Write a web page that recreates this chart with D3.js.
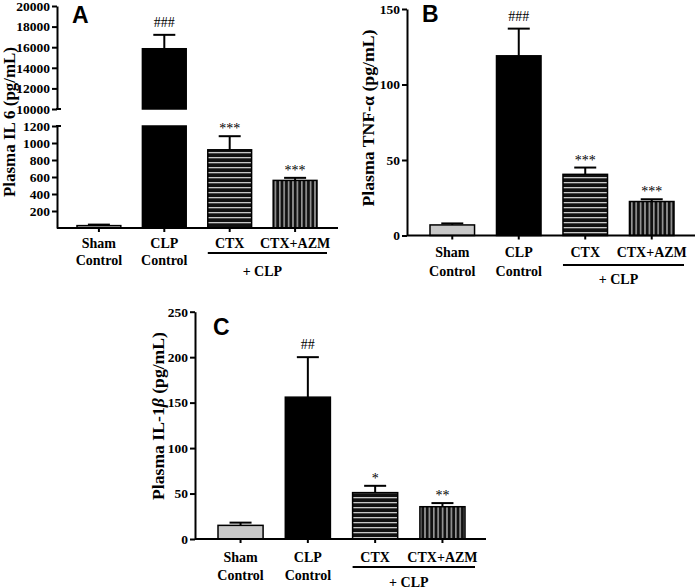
<!DOCTYPE html>
<html>
<head>
<meta charset="utf-8">
<script src="https://cdn.jsdelivr.net/npm/d3@7"></script>
<style>
  body { margin: 0; background: #fff; }
  svg text { font-family: "Liberation Serif", "Times New Roman", serif; font-weight: bold; }
  svg text.title { font-family: "Liberation Sans", Arial, sans-serif; }
</style>
</head>
<body>
<div id="chart"></div>
<script>
// groups and labels
const groups = ['Sham Control', 'CLP Control', 'CTX', 'CTX+AZM'];
const groupLines = [['Sham', 'Control'], ['CLP', 'Control'], ['CTX'], ['CTX+AZM']];

// IL-6 (pg/mL)
const il6Mean = [28, 15850, 920, 560];
const il6Err = [12, 1350, 160, 30];
const il6Marks = ['', '###', '***', '***'];
const il6LowerTicks = [200, 400, 600, 800, 1000, 1200];
const il6UpperTicks = [10000, 12000, 14000, 16000, 18000, 20000];

// TNF-alpha (pg/mL)
const tnfMean = [7, 119, 40.5, 22.5];
const tnfErr = [1, 18, 4.5, 1.5];
const tnfMarks = ['', '###', '***', '***'];
const tnfTicks = [0, 50, 100, 150];

// IL-1beta (pg/mL)
const il1bMean = [15, 156, 51, 35.5];
const il1bErr = [3, 44, 7.5, 4];
const il1bMarks = ['', '##', '*', '**'];
const il1bTicks = [0, 50, 100, 150, 200, 250];

const barFills = ['#c8c8c8', '#000', 'url(#hstripe)', 'url(#vstripe)'];

const svg = d3.select('#chart')
  .append('svg')
  .attr('width', 700)
  .attr('height', 588);

/* stripe patterns */
const defs = svg.append('defs');
const hp = defs.append('pattern')
  .attr('id', 'hstripe')
  .attr('patternUnits', 'userSpaceOnUse')
  .attr('width', 6)
  .attr('height', 5);
hp.append('rect').attr('width', 6).attr('height', 5).attr('fill', '#111');
hp.append('rect').attr('y', 2).attr('width', 6).attr('height', 1.3).attr('fill', '#c8c8c8');

const vp = defs.append('pattern')
  .attr('id', 'vstripe')
  .attr('patternUnits', 'userSpaceOnUse')
  .attr('width', 4.4)
  .attr('height', 6);
vp.append('rect').attr('width', 4.4).attr('height', 6).attr('fill', '#111');
vp.append('rect').attr('x', 2).attr('width', 1.2).attr('height', 6).attr('fill', '#c8c8c8');

function drawPanel(p) {
  const g = svg.append('g');

  const x = d3.scaleBand()
    .domain(groups)
    .range(p.barRange)
    .paddingInner(0.33)
    .paddingOuter(0);

  const segs = p.segments.map(s => ({
    domain: s.domain,
    ticks: s.ticks,
    y: d3.scaleLinear().domain(s.domain).range(s.range)
  }));
  const baseY = segs[0].y(segs[0].domain[0]);

  /* y axis pieces */
  segs.forEach(s => {
    const ax = g.append('g')
      .attr('transform', `translate(${p.axisX},0)`)
      .call(d3.axisLeft(s.y)
        .tickValues(s.ticks)
        .tickFormat(d3.format('d'))
        .tickSize(5)
        .tickSizeOuter(0)
        .tickPadding(2));
    ax.selectAll('path, line').attr('stroke', '#000').attr('stroke-width', 2);
    ax.selectAll('text').style('font-size', '13.5px').attr('fill', '#000');
  });

  // little right caps where the axis is broken
  if (segs.length > 1) {
    [segs[0].y(segs[0].domain[1]), segs[1].y(segs[1].domain[0])].forEach(yy => {
      g.append('line')
        .attr('x1', p.axisX - 1).attr('x2', p.axisX + 4)
        .attr('y1', yy).attr('y2', yy)
        .attr('stroke', '#000').attr('stroke-width', 2);
    });
  }

  /* bars */
  groups.forEach((grp, i) => {
    const v = p.mean[i];
    segs.forEach(s => {
      if (v <= s.domain[0] && s !== segs[0]) return;
      const top = s.y(Math.min(v, s.domain[1]));
      const bot = s.y(s.domain[0]);
      g.append('rect')
        .attr('x', x(grp))
        .attr('y', top)
        .attr('width', x.bandwidth())
        .attr('height', bot - top)
        .attr('fill', barFills[i])
        .attr('stroke', '#000')
        .attr('stroke-width', 1.5);
    });

    // error bar (upper only)
    const s = segs.find(s => v >= s.domain[0] && v <= s.domain[1]);
    const cx = x(grp) + x.bandwidth() / 2;
    const yTop = s.y(v + p.err[i]);
    g.append('line')
      .attr('x1', cx).attr('x2', cx)
      .attr('y1', s.y(v)).attr('y2', yTop)
      .attr('stroke', '#000').attr('stroke-width', 2);
    g.append('line')
      .attr('x1', cx - 11).attr('x2', cx + 11)
      .attr('y1', yTop).attr('y2', yTop)
      .attr('stroke', '#000').attr('stroke-width', 2);

    if (p.marks[i]) {
      const isHash = p.marks[i].indexOf('#') > -1;
      g.append('text')
        .attr('x', cx)
        .attr('y', yTop - (isHash ? 8 : 3))
        .attr('text-anchor', 'middle')
        .style('font-weight', 'normal')
        .style('font-size', '14px')
        .text(p.marks[i]);
    }
  });

  /* x axis */
  g.append('line')
    .attr('x1', p.axisX).attr('x2', p.axisEnd)
    .attr('y1', baseY).attr('y2', baseY)
    .attr('stroke', '#000').attr('stroke-width', 2);

  groups.forEach((grp, i) => {
    const cx = x(grp) + x.bandwidth() / 2;
    g.append('line')
      .attr('x1', cx).attr('x2', cx)
      .attr('y1', baseY).attr('y2', baseY + 4)
      .attr('stroke', '#000').attr('stroke-width', 2);
    groupLines[i].forEach((t, j) => {
      g.append('text')
        .attr('x', cx)
        .attr('y', baseY + (j === 0 ? p.lab1 : p.lab2))
        .attr('text-anchor', 'middle')
        .style('font-size', '14px')
        .text(t);
    });
  });

  // + CLP bracket
  const ux1 = x('CTX');
  const ux2 = x('CTX+AZM') + x.bandwidth() + 10;
  g.append('line')
    .attr('x1', ux1).attr('x2', ux2)
    .attr('y1', baseY + p.under).attr('y2', baseY + p.under)
    .attr('stroke', '#000').attr('stroke-width', 2);
  g.append('text')
    .attr('x', (x('CTX') + x('CTX+AZM') + x.bandwidth()) / 2)
    .attr('y', baseY + p.clp)
    .attr('text-anchor', 'middle')
    .style('font-size', '14px')
    .text('+ CLP');

  /* y label */
  const yl = g.append('text')
    .attr('transform', `translate(${p.ylabX},${p.ylabY}) rotate(-90)`)
    .attr('text-anchor', 'middle')
    .attr('dy', '0.35em')
    .attr('textLength', p.ylabLen)
    .attr('lengthAdjust', 'spacingAndGlyphs')
    .style('font-size', '16px');
  p.ylab.forEach(part => {
    yl.append('tspan')
      .style('font-style', part.italic ? 'italic' : 'normal')
      .text(part.t);
  });

  /* panel letter */
  g.append('text')
    .attr('class', 'title')
    .attr('x', p.titleX)
    .attr('y', p.titleY)
    .style('font-size', '23px')
    .text(p.title);
}

drawPanel({
  title: 'A', titleX: 72, titleY: 23,
  mean: il6Mean, err: il6Err, marks: il6Marks,
  segments: [
    { domain: [0, 1200], range: [228, 126], ticks: il6LowerTicks },
    { domain: [10000, 20000], range: [109, 6], ticks: il6UpperTicks }
  ],
  axisX: 57, axisEnd: 338, barRange: [77, 317],
  lab1: 20, lab2: 37, under: 25, clp: 48,
  ylab: [{ t: 'Plasma IL 6 (pg/mL)' }], ylabX: 9, ylabY: 122, ylabLen: 150
});

drawPanel({
  title: 'B', titleX: 422, titleY: 22,
  mean: tnfMean, err: tnfErr, marks: tnfMarks,
  segments: [
    { domain: [0, 150], range: [235.5, 9], ticks: tnfTicks }
  ],
  axisX: 407, axisEnd: 695, barRange: [430, 674],
  lab1: 21.5, lab2: 40, under: 29.5, clp: 48,
  ylab: [{ t: 'Plasma TNF-α (pg/mL)' }], ylabX: 368, ylabY: 118, ylabLen: 177
});

drawPanel({
  title: 'C', titleX: 213, titleY: 335,
  mean: il1bMean, err: il1bErr, marks: il1bMarks,
  segments: [
    { domain: [0, 250], range: [539, 311.7], ticks: il1bTicks }
  ],
  axisX: 195, axisEnd: 486, barRange: [218, 465],
  lab1: 22.5, lab2: 41, under: 28, clp: 47.5,
  ylab: [{ t: 'Plasma IL-1' }, { t: 'β', italic: true }, { t: ' (pg/mL)' }], ylabX: 158, ylabY: 416, ylabLen: 168
});
</script>
</body>
</html>
